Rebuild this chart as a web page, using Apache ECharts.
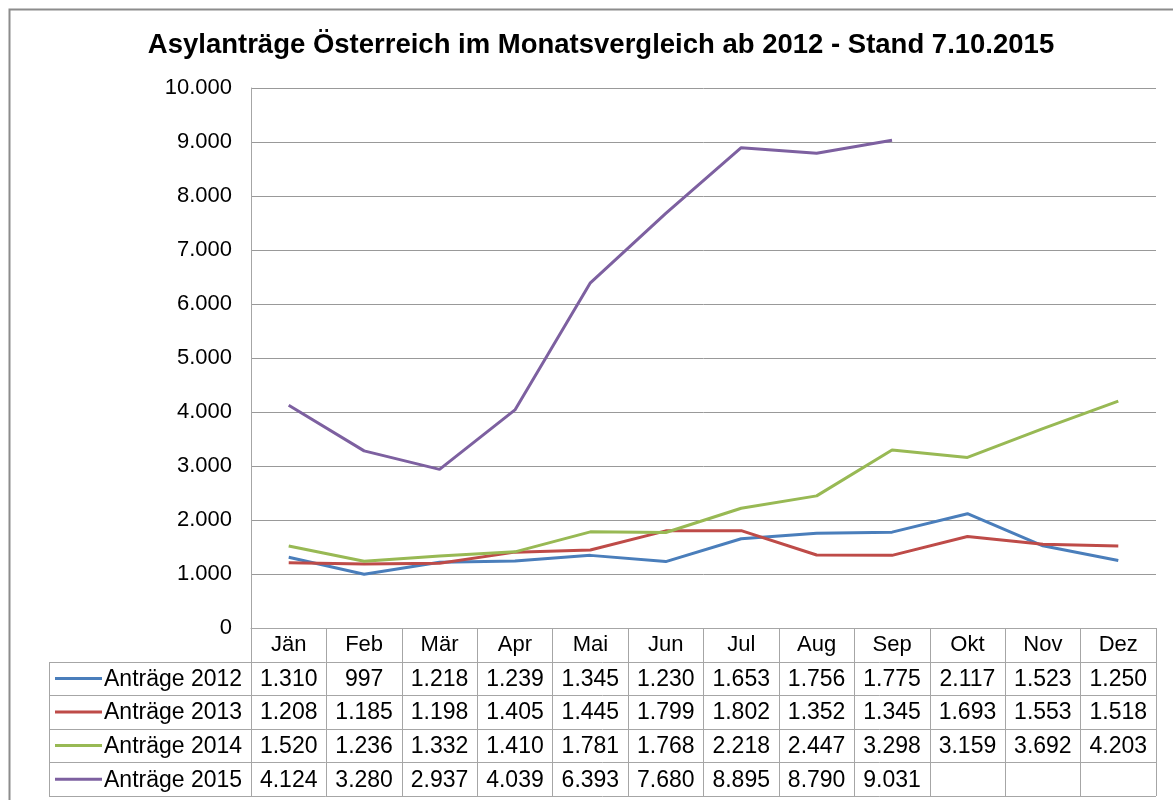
<!DOCTYPE html>
<html><head><meta charset="utf-8">
<script src="https://cdn.jsdelivr.net/npm/echarts@6/dist/echarts.min.js"></script>
<style>html,body{margin:0;padding:0;background:#fff}#c{width:1173px;height:800px}</style>
</head><body><div id="c"></div>
<script>
const title = 'Asylanträge Österreich im Monatsvergleich ab 2012 - Stand 7.10.2015';
const months = ['Jän','Feb','Mär','Apr','Mai','Jun','Jul','Aug','Sep','Okt','Nov','Dez'];
const seriesNames = ['Anträge 2012','Anträge 2013','Anträge 2014','Anträge 2015'];
const a2012 = [1310,997,1218,1239,1345,1230,1653,1756,1775,2117,1523,1250];
const a2013 = [1208,1185,1198,1405,1445,1799,1802,1352,1345,1693,1553,1518];
const a2014 = [1520,1236,1332,1410,1781,1768,2218,2447,3298,3159,3692,4203];
const a2015 = [4124,3280,2937,4039,6393,7680,8895,8790,9031,null,null,null];
const colors = ['#4A7EBB','#BE4B48','#98B954','#7D60A0'];
const allData = [a2012,a2013,a2014,a2015];

const FONT = "'Liberation Sans', Arial, sans-serif";
const fmt = v => v == null ? '' : String(v).replace(/\B(?=(\d{3})+(?!\d))/g, '.');

const G = {left:251, right:17, top:88, bottom:172};
const rowH = 33.6;
const tableLeft = 49;
const lineCol = '#a6a6a6';

const chart = echarts.init(document.getElementById('c'));
chart.setOption({
  animation:false,
  backgroundColor:'#fff',
  title:{text:title,left:596,textAlign:'center',top:26,
    textStyle:{fontFamily:FONT,fontSize:27.5,fontWeight:'bold',color:'#000'}},
  grid:{left:G.left,right:G.right,top:G.top,bottom:G.bottom},
  xAxis:{type:'category',data:months,boundaryGap:true,
    axisLine:{show:true,lineStyle:{color:lineCol,width:1}},
    axisTick:{show:true,interval:0,length:rowH*5,lineStyle:{color:lineCol,width:1}},
    axisLabel:{interval:0,fontFamily:FONT,fontSize:22,color:'#000',margin:6}},
  yAxis:{type:'value',min:0,max:10000,interval:1000,
    axisLine:{show:true,lineStyle:{color:lineCol}},
    axisTick:{show:false},
    splitLine:{lineStyle:{color:'#999',width:1}},
    axisLabel:{fontFamily:FONT,fontSize:22,color:'#000',margin:19,formatter:v=>fmt(v)}},
  series: allData.map((d,i)=>({name:seriesNames[i],type:'line',data:d,symbol:'none',
    lineStyle:{width:3,color:colors[i]},itemStyle:{color:colors[i]}}))
});

// data table
const y0 = chart.convertToPixel({yAxisIndex:0},0);
const xRight = 1173 - G.right;
const els = [];
els.push({type:'rect',shape:{x:9.5,y:9.5,width:1200,height:900},style:{fill:null,stroke:'#8c8c8c',lineWidth:2},silent:true});
for (let r=1;r<=5;r++){
  const y = Math.round(y0 + r*rowH)+0.5;
  els.push({type:'line',shape:{x1:tableLeft,y1:y,x2:xRight,y2:y},style:{stroke:lineCol,lineWidth:1}});
}
els.push({type:'line',shape:{x1:tableLeft+0.5,y1:Math.round(y0+rowH),x2:tableLeft+0.5,y2:Math.round(y0+5*rowH)+1},style:{stroke:lineCol,lineWidth:1}});
allData.forEach((d,i)=>{
  const cy = y0 + rowH*(i+1) + rowH/2;
  els.push({type:'line',shape:{x1:55,y1:cy,x2:102,y2:cy},style:{stroke:colors[i],lineWidth:3}});
  els.push({type:'text',style:{x:104,y:cy+1,text:seriesNames[i],fontFamily:FONT,fontSize:23,fill:'#000',verticalAlign:'middle',align:'left'}});
  d.forEach((v,j)=>{
    const cx = chart.convertToPixel({xAxisIndex:0},months[j]);
    els.push({type:'text',style:{x:cx,y:cy+1,text:fmt(v),fontFamily:FONT,fontSize:23,fill:'#000',verticalAlign:'middle',align:'center'}});
  });
});
chart.setOption({graphic:{elements:els}});
</script></body></html>
